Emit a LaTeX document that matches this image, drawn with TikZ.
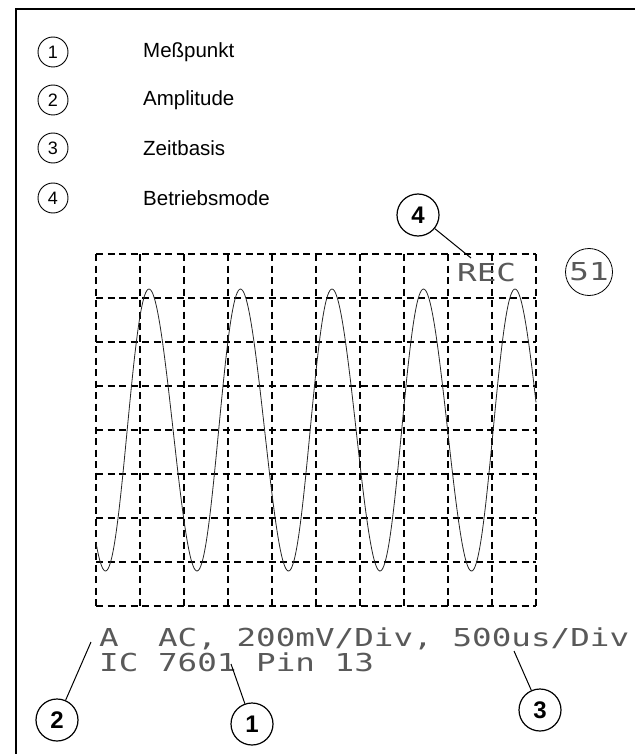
\documentclass[tikz,border=0pt]{standalone}
\usepackage{fontspec}
\usetikzlibrary{positioning}
\newfontfamily\legendFont{Liberation Sans}
\newfontfamily\scopeFont{DejaVu Sans Mono}[FakeStretch=1.32]

\begin{document}
\begin{tikzpicture}[x=1pt,y=-1pt]

            \tikzstyle{legendCircle} = [shape = circle, draw, line width=0.9pt, minimum size=30pt, inner sep=0pt, font=\legendFont\fontsize{18}{18}\selectfont];
            \tikzstyle{legendText} = [anchor=west, inner sep=0pt, font=\legendFont\fontsize{20.5}{20.5}\selectfont];
            \tikzstyle{calloutCircle} = [shape = circle, draw, line width=1.2pt, minimum size=42pt, inner sep=0pt, font=\legendFont\bfseries\fontsize{24}{24}\selectfont];
            \tikzstyle{scopeText} = [anchor=base west, inner sep=0pt, text=black!65, font=\scopeFont\fontsize{24.7}{26}\selectfont];
            \tikzstyle{gridEdge} = [line width=2.7pt, dash pattern=on 7pt off 4.5pt];
            \tikzstyle{waveEdge} = [line width=0.8pt, black!85];
            \tikzstyle{leaderEdge} = [line width=1pt];

            \useasboundingbox (0,0) rectangle (635,754);

            % frame
            \draw[line width=1.6pt] (16,754) -- (16,9) -- (635,9);

            % legend
            \node[legendCircle] (l1) at (53,52) {1};
            \node[legendCircle] (l2) at (53,100) {2};
            \node[legendCircle] (l3) at (53,148) {3};
            \node[legendCircle] (l4) at (53,198) {4};

            \node[legendText] (t1) at (143,52) {Meßpunkt};
            \node[legendText] (t2) at (143,100) {Amplitude};
            \node[legendText] (t3) at (143,148) {Zeitbasis};
            \node[legendText] (t4) at (143,198) {Betriebsmode};

            % screen grid
            \foreach \gx in {96,140,...,536}
              \draw[gridEdge] (\gx,254) -- (\gx,606);
            \foreach \gy in {254,298,...,606}
              \draw[gridEdge] (96,\gy) -- (536,\gy);

            % trace
            \draw[waveEdge] plot[domain=96:536, samples=400, smooth]
              (\x, {430-141*cos(3.9344*(\x-149) - 4.47*(1-cos(3.9344*(\x-149))))});

            % screen texts
            \node[scopeText] (rec) at (457,281) {REC};
            \node[shape = circle, draw, line width=0.8pt, minimum size=47pt, inner sep=0pt, text=black!65, font=\scopeFont\fontsize{24.7}{26}\selectfont] (page) at (589,272) {51};
            \node[scopeText] (rowA) at (99,646) {A\ \ AC, 200mV/Div, 500us/Div};
            \node[scopeText] (rowB) at (99,671) {IC 7601 Pin 13};

            % callouts
            \node[calloutCircle] (c4) at (418,215) {4};
            \node[calloutCircle] (c2) at (57,720) {2};
            \node[calloutCircle] (c1) at (252,724) {1};
            \node[calloutCircle] (c3) at (540,710) {3};

            \coordinate (tipFour)  at (471,258);
            \coordinate (tipTwo)   at (91,642);
            \coordinate (tipOne)   at (231,664);
            \coordinate (tipThree) at (514,651);

            \draw[leaderEdge] (c4) -- (tipFour);
            \draw[leaderEdge] (c2) -- (tipTwo);
            \draw[leaderEdge] (c1) -- (tipOne);
            \draw[leaderEdge] (c3) -- (tipThree);
          \end{tikzpicture}
\end{document}
